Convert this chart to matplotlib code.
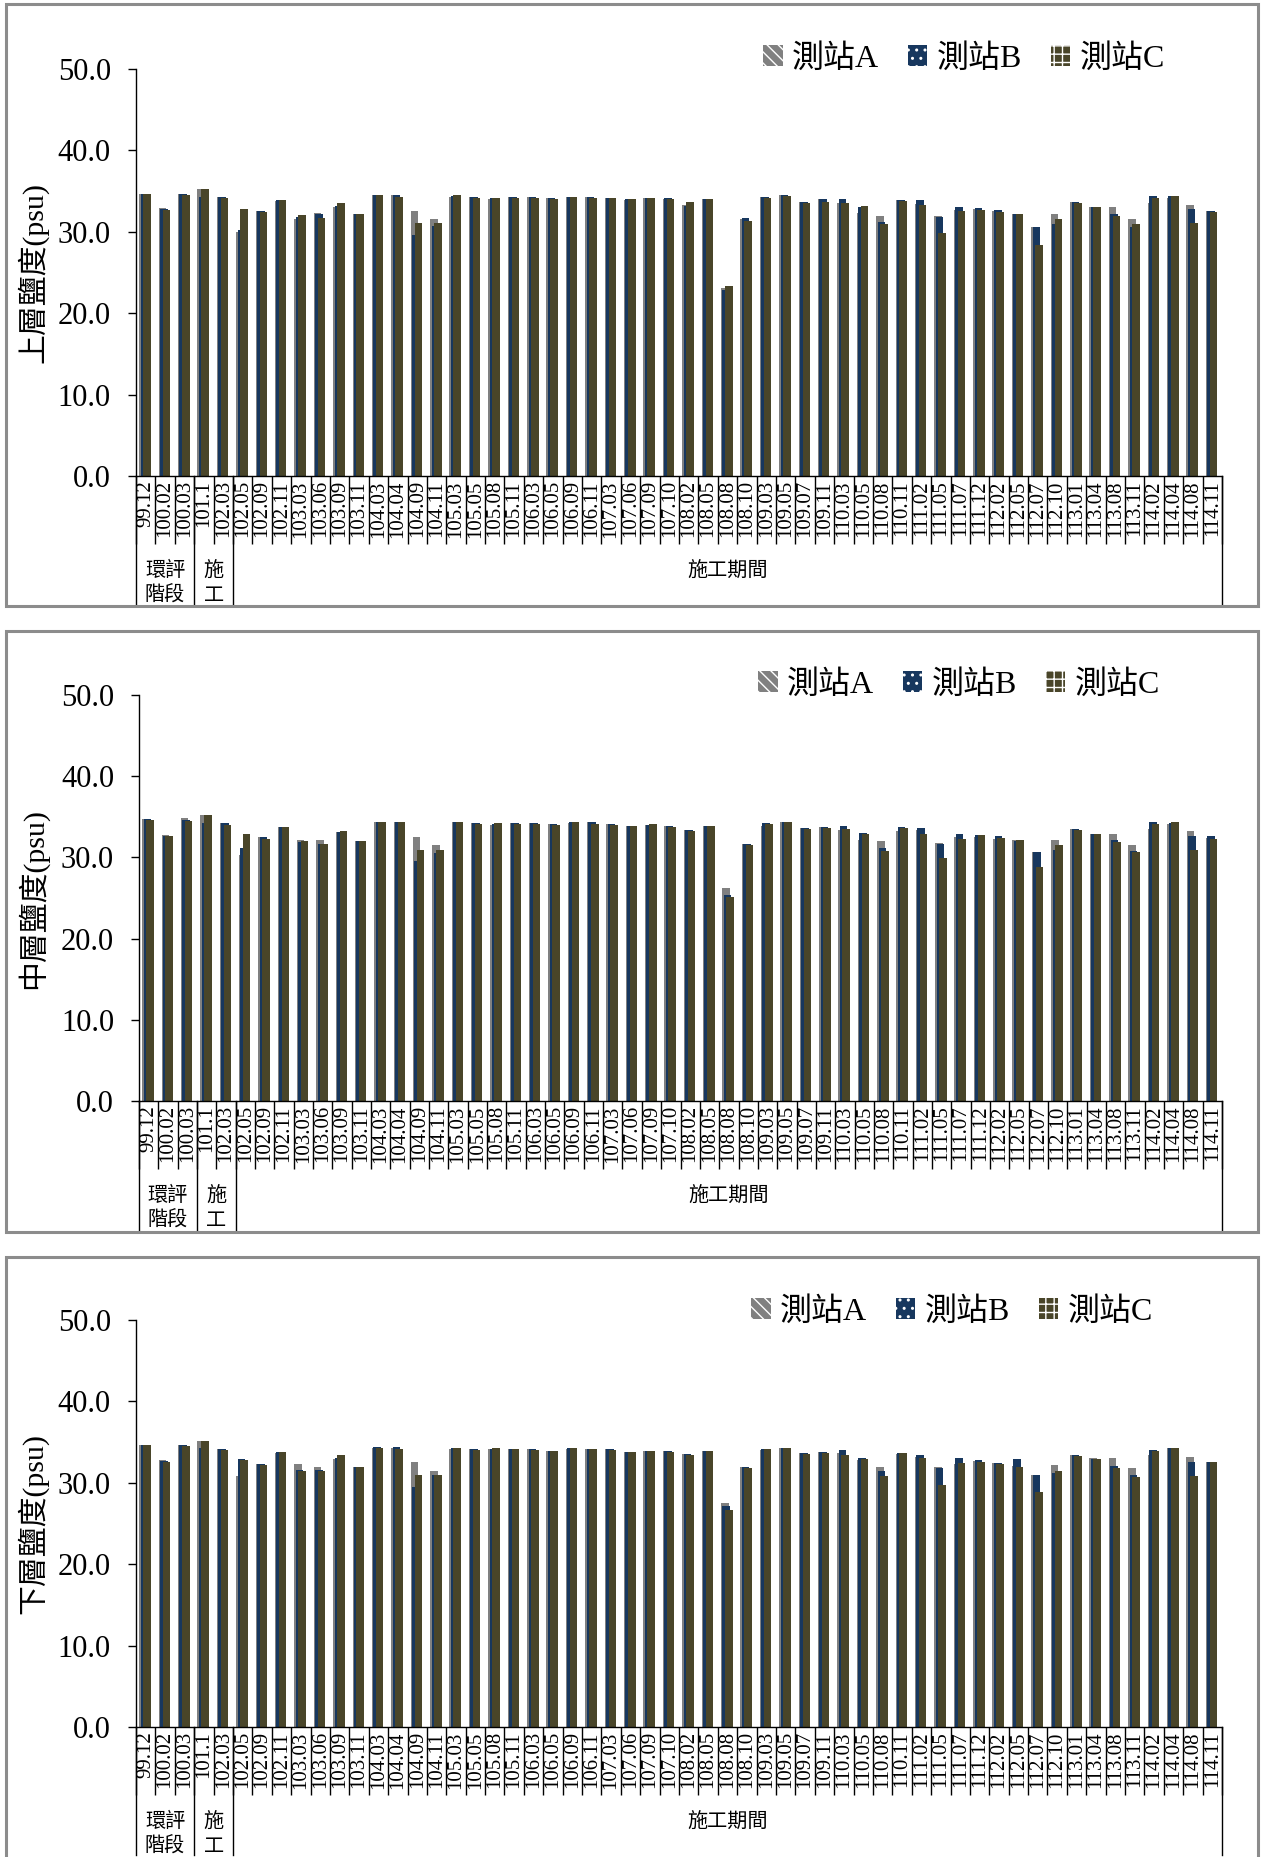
import numpy as np
import matplotlib
matplotlib.use("Agg")
from matplotlib import pyplot as plt
from matplotlib.patches import Patch, Rectangle
import matplotlib.transforms as mtrans

W, H = 1261, 1857

cats = ["99.12", "100.02", "100.03", "101.1", "102.03", "102.05", "102.09", "102.11", "103.03", "103.06",
        "103.09", "103.11", "104.03", "104.04", "104.09", "104.11", "105.03", "105.05", "105.08", "105.11",
        "106.03", "106.05", "106.09", "106.11", "107.03", "107.06", "107.09", "107.10", "108.02", "108.05",
        "108.08", "108.10", "109.03", "109.05", "109.07", "109.11", "110.03", "110.05", "110.08", "110.11",
        "111.02", "111.05", "111.07", "111.12", "112.02", "112.05", "112.07", "112.10", "113.01", "113.04",
        "113.08", "113.11", "114.02", "114.04", "114.08", "114.11"]

groups = ["環評\n階段", "施\n工", "施工期間"]
group_sizes = [3, 2, 51]

series = ["測站A", "測站B", "測站C"]

# 上層
top_a = [34.6, 32.9, 34.7, 35.2, 34.3, 30.0, 32.5, 33.8, 31.6, 32.3,
         33.0, 32.2, 34.5, 34.5, 32.6, 31.6, 34.3, 34.3, 34.0, 34.3,
         34.3, 34.1, 34.3, 34.3, 34.2, 33.9, 34.2, 34.0, 33.3, 34.0,
         23.1, 31.6, 34.3, 34.5, 33.7, 34.0, 33.5, 32.3, 32.0, 33.9,
         33.4, 32.0, 32.7, 32.8, 32.5, 32.2, 30.6, 32.2, 33.6, 33.1,
         33.1, 31.6, 33.5, 34.1, 33.3, 32.5]
top_b = [34.7, 32.8, 34.6, 34.3, 34.3, 30.2, 32.5, 33.9, 31.8, 32.2,
         33.2, 32.2, 34.5, 34.5, 29.6, 30.7, 34.4, 34.3, 34.1, 34.3,
         34.3, 34.1, 34.3, 34.3, 34.2, 34.0, 34.2, 34.1, 33.2, 34.0,
         22.9, 31.7, 34.3, 34.5, 33.7, 34.0, 34.0, 33.1, 31.2, 33.9,
         33.9, 31.8, 33.1, 32.9, 32.7, 32.2, 30.6, 30.9, 33.6, 33.1,
         32.2, 30.6, 34.4, 34.4, 32.8, 32.5]
top_c = [34.6, 32.7, 34.5, 35.2, 34.2, 32.8, 32.4, 33.9, 32.1, 31.7,
         33.5, 32.2, 34.5, 34.3, 31.1, 31.1, 34.5, 34.2, 34.2, 34.2,
         34.2, 34.0, 34.3, 34.2, 34.1, 34.0, 34.1, 34.0, 33.6, 34.0,
         23.3, 31.3, 34.2, 34.4, 33.5, 33.7, 33.5, 33.2, 30.9, 33.8,
         33.3, 29.8, 32.5, 32.7, 32.4, 32.2, 28.4, 31.6, 33.5, 33.0,
         31.9, 30.9, 34.2, 34.4, 31.1, 32.4]

# 中層
mid_a = [34.7, 32.8, 34.9, 35.2, 34.2, 30.3, 32.5, 33.7, 32.2, 32.2,
         33.1, 32.0, 34.4, 34.4, 32.5, 31.5, 34.3, 34.2, 34.0, 34.2,
         34.2, 34.1, 34.2, 34.3, 34.1, 33.9, 34.0, 33.9, 33.4, 33.9,
         26.2, 31.7, 33.9, 34.3, 33.6, 33.8, 33.4, 32.1, 32.0, 33.2,
         33.4, 31.8, 32.5, 32.5, 32.3, 32.1, 30.7, 32.2, 33.5, 32.9,
         32.9, 31.5, 33.5, 34.1, 33.3, 32.4]
mid_b = [34.7, 32.6, 34.6, 34.2, 34.2, 31.1, 32.5, 33.8, 31.9, 31.7,
         33.1, 32.0, 34.4, 34.4, 29.5, 30.5, 34.4, 34.2, 34.1, 34.2,
         34.2, 34.1, 34.3, 34.3, 34.1, 33.9, 34.0, 33.9, 33.4, 33.9,
         25.4, 31.7, 34.2, 34.4, 33.6, 33.8, 33.9, 33.0, 31.2, 33.8,
         33.6, 31.7, 32.9, 32.8, 32.6, 32.0, 30.7, 30.9, 33.5, 32.9,
         32.2, 30.8, 34.3, 34.2, 32.6, 32.6]
mid_c = [34.6, 32.6, 34.5, 35.2, 34.0, 32.9, 32.3, 33.8, 32.0, 31.7,
         33.3, 32.0, 34.4, 34.3, 30.9, 30.9, 34.4, 34.1, 34.2, 34.1,
         34.1, 34.0, 34.4, 34.1, 34.0, 33.9, 34.1, 33.8, 33.3, 33.9,
         25.1, 31.5, 34.1, 34.3, 33.5, 33.6, 33.5, 32.9, 30.8, 33.6,
         32.9, 29.9, 32.3, 32.7, 32.4, 32.2, 28.8, 31.5, 33.4, 32.9,
         31.9, 30.7, 34.1, 34.3, 30.9, 32.3]

# 下層
bot_a = [34.6, 32.8, 34.7, 35.1, 34.1, 30.8, 32.3, 33.7, 32.3, 31.9,
         32.9, 32.0, 34.3, 34.3, 32.5, 31.5, 34.2, 34.1, 34.2, 34.1,
         34.1, 33.9, 34.2, 34.2, 34.1, 33.8, 33.9, 33.9, 33.5, 33.9,
         27.5, 31.9, 34.0, 34.3, 33.6, 33.8, 33.7, 32.8, 32.0, 33.5,
         33.2, 32.0, 32.3, 32.7, 32.4, 32.1, 30.9, 32.2, 33.4, 33.0,
         33.0, 31.8, 33.4, 34.3, 33.2, 32.6]
bot_b = [34.7, 32.7, 34.6, 34.3, 34.2, 32.9, 32.3, 33.8, 31.6, 31.6,
         33.1, 32.0, 34.4, 34.4, 29.5, 31.0, 34.3, 34.1, 34.2, 34.2,
         34.1, 33.9, 34.3, 34.2, 34.1, 33.8, 33.9, 33.9, 33.5, 33.9,
         27.1, 32.0, 34.1, 34.3, 33.6, 33.8, 34.0, 33.0, 31.4, 33.7,
         33.4, 31.8, 33.0, 32.8, 32.4, 32.9, 30.9, 31.2, 33.4, 32.9,
         32.1, 30.9, 34.0, 34.3, 32.6, 32.6]
bot_c = [34.6, 32.6, 34.5, 35.1, 34.0, 32.8, 32.2, 33.8, 31.5, 31.5,
         33.4, 32.0, 34.3, 34.2, 31.0, 30.9, 34.3, 34.0, 34.3, 34.1,
         34.0, 33.9, 34.3, 34.1, 34.0, 33.8, 33.9, 33.8, 33.4, 33.9,
         26.7, 31.8, 34.1, 34.3, 33.5, 33.7, 33.4, 32.9, 30.8, 33.6,
         33.1, 29.7, 32.4, 32.6, 32.3, 32.0, 28.9, 31.5, 33.3, 32.9,
         31.8, 30.7, 33.9, 34.3, 30.8, 32.5]

colors = ["#808080", "#17375E", "#494529"]
hatches = ["\\\\\\", "..", "++"]
offsets = [-0.14, -0.065, 0.065]
bar_w = 0.39

serif = ["Liberation Serif", "Noto Sans CJK TC"]
cjk = ["Noto Sans CJK TC", "Liberation Serif"]

fig = plt.figure(figsize=(W / 100, H / 100), dpi=100)


def fx(px):
    return px / W


def fy(py):
    return 1 - py / H


PT = 72 / 100  # pixels -> points

# frame top/bottom, axes left/right/top/bottom, legend y/right, y label, data
panels = [
    (4, 606, 136, 1222, 69, 476, 59, 1165, "上層鹽度(psu)", [top_a, top_b, top_c]),
    (631, 1232, 139, 1222, 695, 1101, 685, 1160, "中層鹽度(psu)", [mid_a, mid_b, mid_c]),
    (1257, 1862, 136, 1222, 1320, 1727, 1312, 1153, "下層鹽度(psu)", [bot_a, bot_b, bot_c]),
]

x = np.arange(len(cats))

for ftop, fbot, l, r, t, b, ly, lr, ylab, data in panels:
    # outer frame
    fig.patches.append(Rectangle((fx(6), fy(fbot)), fx(1258) - fx(6), fy(ftop) - fy(fbot),
                                 transform=fig.transFigure, fill=False,
                                 edgecolor="#8c8c8c", linewidth=2.2))

    ax = fig.add_axes([fx(l), fy(b), fx(r) - fx(l), fy(t) - fy(b)])
    for vals, c, off in zip(data, colors, offsets):
        ax.bar(x + off, vals, width=bar_w, color=c, linewidth=0, zorder=2)

    ax.set_xlim(-0.5, len(cats) - 0.5)
    ax.set_ylim(0, 50)
    ax.set_yticks(np.arange(0, 51, 10))
    ax.set_yticklabels([f"{v:.1f}" for v in np.arange(0, 51, 10)], family=serif, fontsize=22)
    ax.tick_params(axis="y", length=6, width=1, pad=12)

    ax.set_xticks(x)
    ax.set_xticklabels(cats, rotation=90, family=serif, fontsize=15)
    ax.tick_params(axis="x", which="major", length=0, pad=3)
    ax.set_xticks(np.arange(-0.5, len(cats), 1), minor=True)
    ax.tick_params(axis="x", which="minor", length=68 * PT, width=1, direction="out")

    for s in ["top", "right"]:
        ax.spines[s].set_visible(False)
    ax.spines["left"].set_linewidth(1)
    ax.spines["bottom"].set_linewidth(1)

    # group separators and labels
    trans = mtrans.blended_transform_factory(ax.transData, ax.transAxes)
    h_ax = b - t
    y_low = -(min(fbot, H) - 2 - b) / h_ax
    edges = np.concatenate([[0], np.cumsum(group_sizes)]) - 0.5
    for e in edges:
        ax.plot([e, e], [0, y_low], transform=trans, color="black", lw=1, clip_on=False)
    for g, e0, e1 in zip(groups, edges[:-1], edges[1:]):
        ax.text((e0 + e1) / 2, -(560 - 476) / h_ax, g, transform=trans, ha="center", va="top",
                family=cjk, fontsize=14.5, linespacing=1.25)

    ax.set_ylabel(ylab, family=serif, fontsize=21.5)
    ax.yaxis.set_label_coords(-(l - 48) / (r - l), 0.5)

    handles = [Patch(facecolor=c, edgecolor="white", hatch=h, linewidth=0)
               for c, h in zip(colors, hatches)]
    ax.legend(handles, series, loc="center right", bbox_to_anchor=(fx(lr), fy(ly)),
              bbox_transform=fig.transFigure, ncol=3, frameon=False,
              prop={"family": serif, "size": 23}, handlelength=0.6, handleheight=0.6,
              handletextpad=0.3, columnspacing=0.9, borderpad=0, borderaxespad=0)

fig.savefig("out.png", dpi=100)
